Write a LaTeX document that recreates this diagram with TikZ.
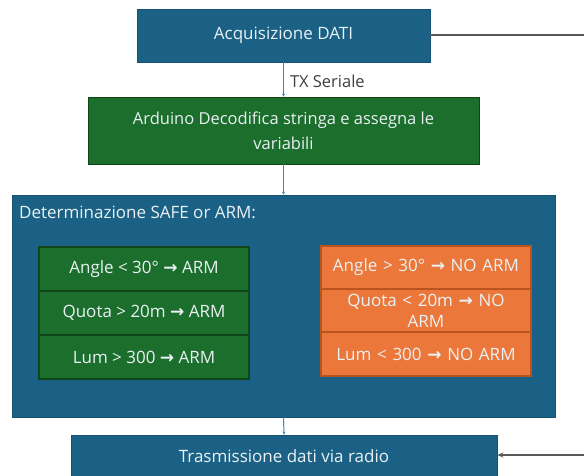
\documentclass[tikz,border=0pt]{standalone}
\usepackage{fontspec}
\setmainfont{Open Sans}
\newfontfamily\arrfont{DejaVu Sans}
\usetikzlibrary{arrows.meta}
\definecolor{bluebox}{HTML}{1B6185}
\definecolor{blueedge}{HTML}{155170}
\definecolor{greenbox}{HTML}{1B6E2C}
\definecolor{greenedge}{HTML}{0F4619}
\definecolor{orangebox}{HTML}{EC773A}
\definecolor{orangeedge}{HTML}{B9541F}
\definecolor{conn}{HTML}{3F86AE}
\definecolor{boxtext}{HTML}{EAF1F4}
\newcommand{\arw}{{\arrfont\bfseries →}}
\tikzset{
  box/.style={rectangle, inner sep=2pt, align=center, text=boxtext, font=\fontsize{17}{22}\selectfont},
  bluestyle/.style={box, fill=bluebox, draw=blueedge, line width=0.8pt},
  greenstyle/.style={box, fill=greenbox, draw=greenedge, line width=1.5pt},
  cellgreen/.style={box, fill=greenbox, draw=greenedge, line width=1.6pt, minimum width=210pt, minimum height=44pt},
  cellorange/.style={box, fill=orangebox, draw=orangeedge, line width=1.2pt, minimum width=210pt, text width=204pt},
  link/.style={draw=conn, line width=1pt, -{Stealth[length=3pt,width=3pt]}},
  sidelink/.style={draw=gray!70!black, line width=1.2pt},
}
\begin{document}
\begin{tikzpicture}[x=1pt,y=-1pt]
\useasboundingbox[fill=white] (0,0) rectangle (584,475);
% top box
\node[bluestyle, minimum width=293pt, minimum height=53pt] (acq) at (283.5,35.5) {Acquisizione DATI};
% green box
\node[greenstyle, line width=0.8pt, minimum width=391pt, minimum height=67pt, font=\fontsize{16.5}{25}\selectfont] (ard) at (283.5,130.5) {Arduino Decodifica stringa e assegna le\\variabili};
% big box
\node[bluestyle, minimum width=543pt, minimum height=222pt] (det) at (283.5,306) {};
\node[anchor=west, text=boxtext, font=\fontsize{17}{20}\selectfont, inner sep=0pt] (dettitle) at (19,212) {Determinazione SAFE or ARM:};
% green cells
\node[cellgreen] (g1) at (144,269) {Angle < 30° \arw{}  ARM};
\node[cellgreen] (g2) at (144,313) {Quota > 20m \arw{}  ARM};
\node[cellgreen] (g3) at (144,357) {Lum > 300 \arw{}  ARM};
% orange cells
\node[cellorange, minimum height=43pt] (o1) at (426,267.5) {Angle > 30° \arw{} NO ARM};
\node[cellorange, minimum height=43pt, font=\fontsize{17}{21}\selectfont] (o2) at (426,310.5) {Quota < 20m \arw{} NO\\ ARM};
\node[cellorange, minimum height=44pt] (o3) at (426,354) {Lum < 300 \arw{} NO ARM};
% bottom box
\node[bluestyle, minimum width=426pt, minimum height=50pt] (tx) at (284,460) {};
\node[text=boxtext, font=\fontsize{17}{20}\selectfont, inner sep=0pt] (txt) at (284,456) {Trasmissione dati via radio};
% connectors
\draw[link] (acq.south) -- (ard.north) node[midway, right=6pt, text=black!75, font=\fontsize{16.5}{19}\selectfont, inner sep=0pt, yshift=-2pt] (lbl) {TX Seriale};
\draw[link] (ard.south) -- (det.north);
\draw[link] (det.south) -- (tx.north);
\coordinate (outR) at (584,35);
\coordinate (inR) at (584,455);
\draw[sidelink] (acq.east |- outR) -- (outR);
\draw[sidelink, -{Stealth[length=6pt,width=5pt]}] (inR) -- (tx.east |- inR);
\end{tikzpicture}
\end{document}
